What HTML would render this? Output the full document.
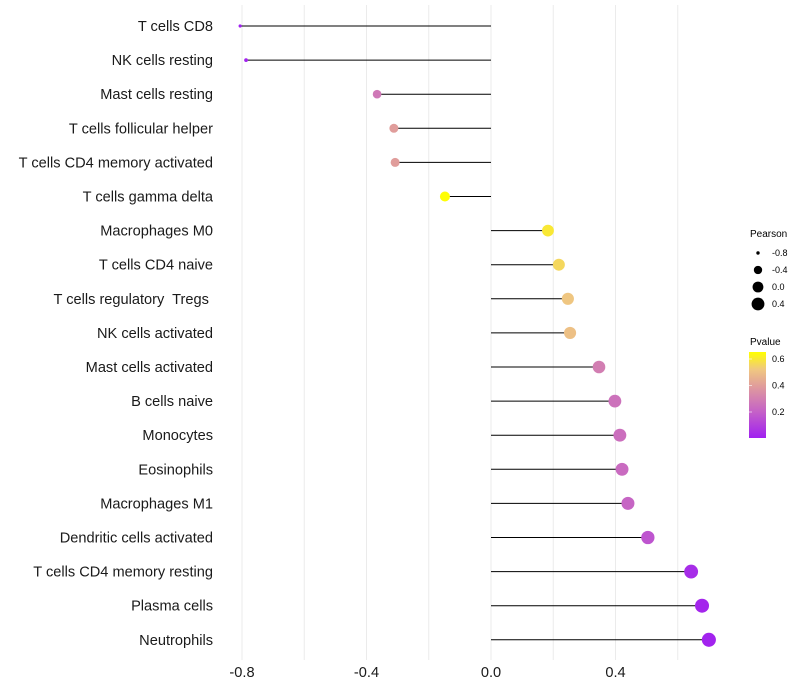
<!DOCTYPE html>
<html><head><meta charset="utf-8"><style>
html,body{margin:0;padding:0;background:#fff;}
svg{display:block;font-family:"Liberation Sans",Arial,sans-serif;}
text{white-space:pre;}
</style></head><body>
<svg id="chart" width="800" height="700">
<defs>
<linearGradient id="pg" x1="0" y1="1" x2="0" y2="0">
<stop offset="0" stop-color="#a020f0"/>
<stop offset="0.3" stop-color="#c460c8"/>
<stop offset="0.6" stop-color="#e09c9c"/>
<stop offset="0.8" stop-color="#f0c880"/>
<stop offset="1" stop-color="#ffff00"/>
</linearGradient>
</defs>
<g id="grid"></g>
<g id="marks"></g>
<g id="labels"></g>
<g id="ticks"></g>
<g font-size="9">
<text x="750" y="237" font-size="10">Pearson</text>
<g id="sizeLegend"></g>
</g>
<g font-size="9">
<text x="750" y="345" font-size="10">Pvalue</text>
<rect x="749" y="352" width="17" height="86" fill="url(#pg)"/>
<g id="colorTicks"></g>
</g>
</svg>
<script>
const categories=["T cells CD8","NK cells resting","Mast cells resting","T cells follicular helper","T cells CD4 memory activated","T cells gamma delta","Macrophages M0","T cells CD4 naive","T cells regulatory  Tregs ","NK cells activated","Mast cells activated","B cells naive","Monocytes","Eosinophils","Macrophages M1","Dendritic cells activated","T cells CD4 memory resting","Plasma cells","Neutrophils"];
const pearson=[-0.806,-0.787,-0.366,-0.312,-0.308,-0.148,0.183,0.218,0.247,0.254,0.347,0.398,0.414,0.421,0.44,0.504,0.643,0.678,0.70];
const pvalue=[0.01,0.02,0.28,0.40,0.40,0.65,0.60,0.56,0.52,0.50,0.30,0.26,0.25,0.24,0.22,0.17,0.05,0.03,0.02];
const xTicks=[-0.8,-0.4,0.0,0.4];
const gridVals=[-0.8,-0.6,-0.4,-0.2,0,0.2,0.4,0.6];
const sizeBreaks=[-0.8,-0.4,0.0,0.4];
const colorBreaks=[0.6,0.4,0.2];
const NS="http://www.w3.org/2000/svg";
const x=v=>491+v*311.25;
const y=i=>26+i*34.1;
const r=v=>1+4.9*Math.sqrt(Math.max(0,v+0.82));
const pY=p=>359+(0.6-p)*132.5;
const stops=[[0,[160,32,240]],[0.3,[196,96,200]],[0.6,[224,156,156]],[0.8,[240,200,128]],[1,[255,255,0]]];
function col(p){let t=(p-0.011)/(0.653-0.011);t=Math.max(0,Math.min(1,t));
for(let k=1;k<stops.length;k++){if(t<=stops[k][0]){const a=stops[k-1],b=stops[k];const f=(t-a[0])/(b[0]-a[0]);
return 'rgb('+a[1].map((c,j)=>Math.round(c+(b[1][j]-c)*f)).join(',')+')';}}return 'rgb(255,255,0)';}
function mk(t,a,p){const e=document.createElementNS(NS,t);for(const k in a)e.setAttribute(k,a[k]);p.appendChild(e);return e;}
const G=document.getElementById('grid'),M=document.getElementById('marks'),L=document.getElementById('labels'),T=document.getElementById('ticks');
gridVals.forEach(v=>{const l=mk('line',{x1:x(v),x2:x(v),y1:5,y2:660,stroke:'#ebebeb','stroke-width':1},G);

});
categories.forEach((c,i)=>{
const ln=mk('line',{x1:x(0),x2:x(pearson[i]),y1:y(i),y2:y(i),stroke:'#000','stroke-width':1},M);


const d=mk('circle',{cx:x(pearson[i]),cy:y(i),r:r(pearson[i]),fill:col(pvalue[i])},M);


const t=mk('text',{x:213,y:y(i)+5,'text-anchor':'end','font-size':14.6,fill:'#1a1a1a'},L);t.textContent=c;

});
xTicks.forEach(v=>{const t=mk('text',{x:x(v),y:677,'text-anchor':'middle','font-size':14.6,fill:'#1a1a1a'},T);t.textContent=v.toFixed(1);

});
const S=document.getElementById('sizeLegend');
sizeBreaks.forEach((v,k)=>{const cy=253+k*17;
const c=mk('circle',{cx:758,cy:cy,r:r(v),fill:'#000'},S);


const t=mk('text',{x:772,y:cy+3,'font-size':9},S);t.textContent=v.toFixed(1);

});
const C=document.getElementById('colorTicks');
colorBreaks.forEach(p=>{const yy=pY(p);
const l=mk('line',{x1:749,x2:752,y1:yy,y2:yy,stroke:'#fff','stroke-width':0.6},C);


const t=mk('text',{x:772,y:yy+3,'font-size':9},C);t.textContent=p.toFixed(1);

});
</script>
</body></html>
